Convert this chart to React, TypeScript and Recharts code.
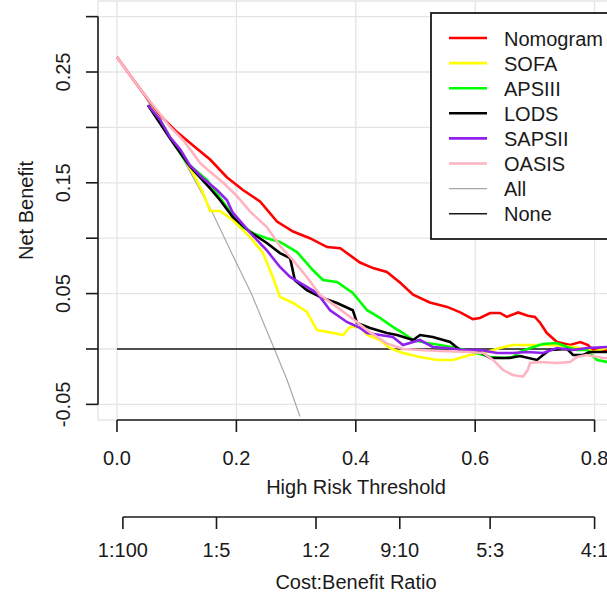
import React from "react";
import { CartesianGrid, Legend, Line, LineChart, ReferenceLine, XAxis, YAxis } from "recharts";

// Net benefit, as [threshold, net benefit] pairs.
const NOMOGRAM: [number, number][] = [
  [0, 0.2636], [0.022, 0.247], [0.044, 0.231], [0.072, 0.211], [0.1, 0.196], [0.127, 0.184],
  [0.156, 0.171], [0.184, 0.155], [0.211, 0.1435], [0.24, 0.133], [0.268, 0.115], [0.295, 0.106],
  [0.323, 0.1], [0.352, 0.092], [0.374, 0.091], [0.407, 0.078], [0.429, 0.073], [0.452, 0.0695],
  [0.474, 0.06], [0.496, 0.049], [0.524, 0.042], [0.553, 0.038], [0.575, 0.033], [0.596, 0.027],
  [0.608, 0.028], [0.625, 0.0325], [0.6415, 0.0325], [0.653, 0.029], [0.672, 0.033], [0.688, 0.03],
  [0.7, 0.029], [0.709, 0.0235], [0.72, 0.0144], [0.737, 0.0063], [0.759, 0.0036], [0.776, 0.0063],
  [0.789, 0.0036], [0.797, -0.001], [0.814, -0.001], [0.83, -0.001],
];
const SOFA: [number, number][] = [
  [0.052, 0.22], [0.072, 0.206], [0.089, 0.191], [0.106, 0.178], [0.127, 0.159], [0.144, 0.141],
  [0.156, 0.1245], [0.1725, 0.1245], [0.194, 0.1164], [0.223, 0.101], [0.2445, 0.0866], [0.261, 0.065],
  [0.273, 0.047], [0.295, 0.0415], [0.318, 0.0334], [0.335, 0.0171], [0.362, 0.0144], [0.379, 0.0126],
  [0.39, 0.0199], [0.407, 0.0199], [0.419, 0.0126], [0.4405, 0.0081], [0.457, 0.0009], [0.479, -0.0036],
  [0.5075, -0.0072], [0.536, -0.0099], [0.563, -0.0099], [0.591, -0.0054], [0.613, -0.0036],
  [0.6415, 0.0009], [0.663, 0.0036], [0.697, 0.0036], [0.73, 0.0036], [0.764, 0.0018], [0.792, -0.0009],
  [0.797, -0.0027], [0.821, 0.0009], [0.83, 0.0009],
];
const APSIII: [number, number][] = [
  [0.052, 0.22], [0.072, 0.207], [0.094, 0.186], [0.117, 0.168], [0.151, 0.1525], [0.172, 0.137],
  [0.194, 0.121], [0.211, 0.11], [0.23, 0.104], [0.251, 0.1], [0.273, 0.0966], [0.3015, 0.0875],
  [0.328, 0.0713], [0.345, 0.0623], [0.3685, 0.0605], [0.395, 0.0505], [0.419, 0.035], [0.4405, 0.028],
  [0.462, 0.0199], [0.479, 0.0144], [0.496, 0.0081], [0.519, 0.0054], [0.541, 0.0036], [0.5695, 0.0009],
  [0.596, -0.0027], [0.625, -0.0072], [0.6466, -0.0081], [0.663, -0.0072], [0.675, -0.0027],
  [0.692, 0.0009], [0.7136, 0.0045], [0.737, 0.0054], [0.754, 0.0018], [0.7705, -0.0009],
  [0.787, -0.0009], [0.804, -0.0099], [0.821, -0.0117], [0.83, -0.012],
];
const LODS: [number, number][] = [
  [0.052, 0.22], [0.089, 0.19], [0.122, 0.165], [0.156, 0.145], [0.1725, 0.1345], [0.194, 0.119],
  [0.223, 0.1056], [0.251, 0.0957], [0.273, 0.0866], [0.29, 0.082], [0.298, 0.062], [0.318, 0.053],
  [0.34, 0.047], [0.3685, 0.0415], [0.395, 0.035], [0.402, 0.0235], [0.424, 0.019], [0.452, 0.0144],
  [0.469, 0.0126], [0.496, 0.0081], [0.5075, 0.0126], [0.529, 0.0108], [0.558, 0.0063], [0.5745, -0.0009],
  [0.608, -0.0027], [0.625, -0.0081], [0.658, -0.0081], [0.675, -0.0063], [0.7035, -0.0099],
  [0.7136, -0.0054], [0.725, -0.0009], [0.754, 0], [0.764, -0.0054], [0.7806, -0.0054],
  [0.792, -0.0027], [0.83, -0.0027],
];
const SAPSII: [number, number][] = [
  [0.052, 0.22], [0.072, 0.207], [0.089, 0.191], [0.106, 0.18], [0.122, 0.166], [0.144, 0.154],
  [0.1675, 0.1435], [0.184, 0.1345], [0.194, 0.123], [0.223, 0.105], [0.251, 0.089], [0.273, 0.074],
  [0.29, 0.065], [0.318, 0.056], [0.335, 0.0505], [0.357, 0.035], [0.385, 0.0244], [0.407, 0.019],
  [0.419, 0.0144], [0.4405, 0.0126], [0.462, 0.0108], [0.479, 0.0036], [0.5075, 0.0081], [0.529, 0.0018],
  [0.553, 0.0009], [0.58, -0.0009], [0.608, -0.0009], [0.6365, -0.0036], [0.663, -0.0036],
  [0.687, -0.0027], [0.7136, -0.0036], [0.737, 0.0009], [0.764, -0.0009], [0.787, 0.0009],
  [0.821, 0.0018], [0.83, 0.0018],
];
const OASIS: [number, number][] = [
  [0, 0.2636], [0.022, 0.247], [0.044, 0.231], [0.067, 0.2157], [0.089, 0.2004], [0.1106, 0.1886],
  [0.127, 0.177], [0.139, 0.168], [0.156, 0.16], [0.178, 0.15], [0.201, 0.138], [0.223, 0.124],
  [0.251, 0.11], [0.273, 0.093], [0.295, 0.08], [0.318, 0.065], [0.34, 0.049], [0.368, 0.038],
  [0.395, 0.027], [0.424, 0.015], [0.452, 0.005], [0.479, 0], [0.508, -0.0009], [0.541, -0.0018],
  [0.591, -0.0027], [0.613, -0.0036], [0.63, -0.0099], [0.6466, -0.019], [0.663, -0.0235],
  [0.68, -0.025], [0.688, -0.019], [0.692, -0.0126], [0.7085, -0.0117], [0.737, -0.0126],
  [0.759, -0.0117], [0.7705, -0.0072], [0.787, -0.0054], [0.814, -0.0081], [0.83, -0.0081],
];
const ALL: [number, number][] = [
  [0, 0.2636], [0.05, 0.225], [0.1, 0.182], [0.159, 0.124], [0.189, 0.09], [0.225, 0.05],
  [0.262, 0.002], [0.285, -0.028], [0.3065, -0.061],
];
const NONE: [number, number][] = [[0, 0], [0.85, 0]];

const X_TICKS = [0, 0.2, 0.4, 0.6, 0.8];
const Y_TICKS = [-0.05, 0, 0.05, 0.1, 0.15, 0.2, 0.25, 0.3];
const Y_LABELLED = [-0.05, 0.05, 0.15, 0.25];
// cost:benefit pairs for the second axis; threshold = cost / (cost + benefit)
const COST_BENEFIT: [number, number][] = [[1, 100], [1, 5], [1, 2], [9, 10], [5, 3], [4, 1]];

const X_DOMAIN: [number, number] = [-0.0318, 0.8325];
const Y_DOMAIN: [number, number] = [-0.0641, 0.3141];
const CB_AXIS_Y = -0.1516; // where the cost:benefit axis line sits, in net-benefit units

const FONT = '"Liberation Sans", Arial, Helvetica, sans-serif';
const INK = "#1a1a1a";

const toPoints = (rows: [number, number][]) => rows.map(([t, nb]) => ({ t, nb }));

const SERIES = [
  { name: "Nomogram", rows: NOMOGRAM, color: "#ff0000", width: 2.6 },
  { name: "SOFA", rows: SOFA, color: "#ffff00", width: 2.6 },
  { name: "APSIII", rows: APSIII, color: "#00ff00", width: 2.6 },
  { name: "LODS", rows: LODS, color: "#000000", width: 2.6 },
  { name: "SAPSII", rows: SAPSII, color: "#9020ee", width: 2.6 },
  { name: "OASIS", rows: OASIS, color: "#ffb3c0", width: 2.6 },
  { name: "All", rows: ALL, color: "#a8a8a8", width: 1.2 },
  { name: "None", rows: NONE, color: INK, width: 1.4 },
];

const cbTicks = COST_BENEFIT.map(([c, b]) => c / (c + b));
const cbLabel = (v: number) => {
  const i = cbTicks.findIndex((t) => Math.abs(t - v) < 1e-6);
  return i < 0 ? "" : `${COST_BENEFIT[i][0]}:${COST_BENEFIT[i][1]}`;
};

const textStyle = { fontFamily: FONT, fontSize: 20, fill: INK };

function XTick(props: any) {
  const { x, y, payload, dy, format } = props;
  const v = Number(payload.value);
  return (
    <text x={x} y={y + dy} textAnchor="middle" style={textStyle}>
      {format ? format(v) : v.toFixed(1)}
    </text>
  );
}

function YTick(props: any) {
  const { x, y, payload } = props;
  const v = Number(payload.value);
  if (!Y_LABELLED.some((l) => Math.abs(l - v) < 1e-9)) return <g />;
  const bx = x - 13.5;
  return (
    <text x={bx} y={y} textAnchor="middle" transform={`rotate(-90, ${bx}, ${y})`} style={textStyle}>
      {v.toFixed(2)}
    </text>
  );
}

function AxisTitle({ viewBox, value, dy }: any) {
  const { x, y, width } = viewBox;
  return (
    <text x={x + width / 2} y={y + dy} textAnchor="middle" style={textStyle}>
      {value}
    </text>
  );
}

function YTitle({ viewBox }: any) {
  const cx = 33;
  const cy = viewBox.y + viewBox.height / 2;
  return (
    <text x={cx} y={cy} textAnchor="middle" transform={`rotate(-90, ${cx}, ${cy})`} style={textStyle}>
      Net Benefit
    </text>
  );
}

function LegendBox() {
  return (
    <svg width={200} height={228} style={{ display: "block" }}>
      <rect x={1} y={1} width={260} height={226} fill="#fff" stroke={INK} strokeWidth={1.8} />
      {SERIES.map((s, i) => {
        const cy = 26 + i * 25.1;
        return (
          <g key={s.name}>
            <line x1={19} x2={57} y1={cy} y2={cy} stroke={s.color} strokeWidth={s.width} />
            <text x={74} y={cy + 7.5} style={textStyle}>
              {s.name}
            </text>
          </g>
        );
      })}
    </svg>
  );
}

export default function App() {
  const axisStroke = { stroke: INK, strokeWidth: 1.6 };
  return (
    <div
      style={{
        position: "absolute",
        left: 0,
        top: 0,
        width: 607,
        height: 593,
        overflow: "hidden",
        background: "#fff",
      }}
    >
      <LineChart width={620} height={593} margin={{ top: 1, right: 6, bottom: 0, left: 0 }}>
        <CartesianGrid stroke="#e4e4e4" strokeWidth={1.3} />
        <XAxis
          xAxisId={0}
          dataKey="t"
          type="number"
          domain={X_DOMAIN}
          allowDataOverflow
          ticks={X_TICKS}
          interval={0}
          height={97}
          tickSize={12}
          axisLine={false}
          tickLine={axisStroke}
          tick={(p: any) => <XTick {...p} dy={31} />}
          label={{ content: (p: any) => <AxisTitle {...p} value="High Risk Threshold" dy={74} /> }}
        />
        <XAxis
          xAxisId="cb"
          dataKey="t"
          type="number"
          domain={X_DOMAIN}
          allowDataOverflow
          ticks={cbTicks}
          interval={0}
          height={76}
          tickSize={12}
          axisLine={false}
          tickLine={axisStroke}
          tick={(p: any) => <XTick {...p} dy={26} format={cbLabel} />}
          label={{ content: (p: any) => <AxisTitle {...p} value="Cost:Benefit Ratio" dy={72} /> }}
        />
        <YAxis
          type="number"
          domain={Y_DOMAIN}
          allowDataOverflow
          ticks={Y_TICKS}
          interval={0}
          width={98}
          tickSize={12}
          axisLine={false}
          tickLine={axisStroke}
          tick={(p: any) => <YTick {...p} />}
          label={{ content: (p: any) => <YTitle {...p} /> }}
        />
        <ReferenceLine
          segment={[{ x: X_DOMAIN[0], y: -0.05 }, { x: X_DOMAIN[0], y: 0.3 }]}
          ifOverflow="visible"
          {...axisStroke}
        />
        <ReferenceLine
          segment={[{ x: 0, y: Y_DOMAIN[0] }, { x: 0.8, y: Y_DOMAIN[0] }]}
          ifOverflow="visible"
          {...axisStroke}
        />
        <ReferenceLine
          segment={[{ x: cbTicks[0], y: CB_AXIS_Y }, { x: cbTicks[cbTicks.length - 1], y: CB_AXIS_Y }]}
          ifOverflow="visible"
          {...axisStroke}
        />
        {[...SERIES.slice(6), ...SERIES.slice(0, 6)].map((s) => (
          <Line
            key={s.name}
            data={toPoints(s.rows)}
            dataKey="nb"
            name={s.name}
            type="linear"
            stroke={s.color}
            strokeWidth={s.width}
            dot={false}
            activeDot={false}
            isAnimationActive={false}
          />
        ))}
        <Legend
          layout="vertical"
          align="center"
          verticalAlign="middle"
          wrapperStyle={{ left: 430, top: 12, width: 200 }}
          content={() => <LegendBox />}
        />
      </LineChart>
    </div>
  );
}
